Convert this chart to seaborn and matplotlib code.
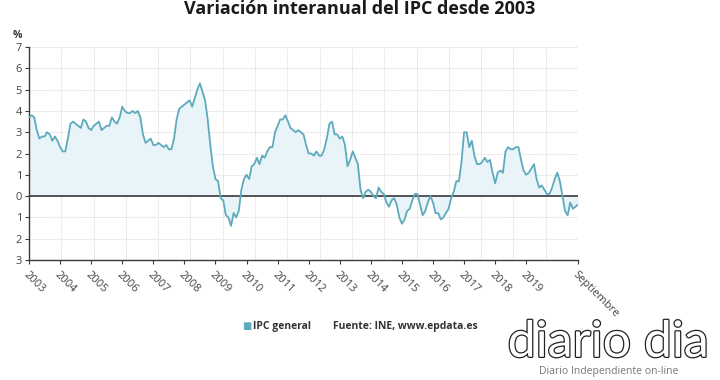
import numpy as np
import pandas as pd
import matplotlib
matplotlib.use("Agg")
import matplotlib.pyplot as plt
import matplotlib.patheffects as pe
import seaborn as sns

# IPC general, variación interanual (%), enero 2003 - septiembre 2020
ipc_2003 = [3.7, 3.8, 3.7, 3.1, 2.7, 2.8, 2.8, 3.0, 2.9, 2.6, 2.8, 2.6]
ipc_2004 = [2.3, 2.1, 2.1, 2.7, 3.4, 3.5, 3.4, 3.3, 3.2, 3.6, 3.5, 3.2]
ipc_2005 = [3.1, 3.3, 3.4, 3.5, 3.1, 3.2, 3.3, 3.3, 3.7, 3.5, 3.4, 3.7]
ipc_2006 = [4.2, 4.0, 3.9, 3.9, 4.0, 3.9, 4.0, 3.7, 2.9, 2.5, 2.6, 2.7]
ipc_2007 = [2.4, 2.4, 2.5, 2.4, 2.3, 2.4, 2.2, 2.2, 2.7, 3.6, 4.1, 4.2]
ipc_2008 = [4.3, 4.4, 4.5, 4.2, 4.6, 5.0, 5.3, 4.9, 4.5, 3.6, 2.4, 1.4]
ipc_2009 = [0.8, 0.7, -0.1, -0.2, -0.9, -1.0, -1.4, -0.8, -1.0, -0.7, 0.3, 0.8]
ipc_2010 = [1.0, 0.8, 1.4, 1.5, 1.8, 1.5, 1.9, 1.8, 2.1, 2.3, 2.3, 3.0]
ipc_2011 = [3.3, 3.6, 3.6, 3.8, 3.5, 3.2, 3.1, 3.0, 3.1, 3.0, 2.9, 2.4]
ipc_2012 = [2.0, 2.0, 1.9, 2.1, 1.9, 1.9, 2.2, 2.7, 3.4, 3.5, 2.9, 2.9]
ipc_2013 = [2.7, 2.8, 2.4, 1.4, 1.7, 2.1, 1.8, 1.5, 0.3, -0.1, 0.2, 0.3]
ipc_2014 = [0.2, 0.0, -0.1, 0.4, 0.2, 0.1, -0.3, -0.5, -0.2, -0.1, -0.4, -1.0]
ipc_2015 = [-1.3, -1.1, -0.7, -0.6, -0.2, 0.1, 0.1, -0.4, -0.9, -0.7, -0.3, 0.0]
ipc_2016 = [-0.3, -0.8, -0.8, -1.1, -1.0, -0.8, -0.6, -0.1, 0.2, 0.7, 0.7, 1.6]
ipc_2017 = [3.0, 3.0, 2.3, 2.6, 1.9, 1.5, 1.5, 1.6, 1.8, 1.6, 1.7, 1.1]
ipc_2018 = [0.6, 1.1, 1.2, 1.1, 2.1, 2.3, 2.2, 2.2, 2.3, 2.3, 1.7, 1.2]
ipc_2019 = [1.0, 1.1, 1.3, 1.5, 0.8, 0.4, 0.5, 0.3, 0.1, 0.1, 0.4, 0.8]
ipc_2020 = [1.1, 0.7, 0.0, -0.7, -0.9, -0.3, -0.6, -0.5, -0.4]

year_labels = [str(y) for y in range(2003, 2020)] + ["Septiembre"]
y_ticks = [-3, -2, -1, 0, 1, 2, 3, 4, 5, 6, 7]

values = (ipc_2003 + ipc_2004 + ipc_2005 + ipc_2006 + ipc_2007 + ipc_2008
          + ipc_2009 + ipc_2010 + ipc_2011 + ipc_2012 + ipc_2013 + ipc_2014
          + ipc_2015 + ipc_2016 + ipc_2017 + ipc_2018 + ipc_2019 + ipc_2020)
df = pd.DataFrame({"mes": np.arange(len(values)), "ipc": values})
last = df["mes"].iloc[-1]

LINE = "#5eaabd"
FILL = "#e9f4f8"
DARK = "#3a3a3a"
GRID = "#dadada"

sns.set_style("white")
plt.rcParams["font.family"] = ["Open Sans", "DejaVu Sans"]

fig = plt.figure(figsize=(7.2, 3.8), dpi=100)
ax = fig.add_axes([0.0403, 0.316, 0.7625, 0.560])

ax.fill_between(df["mes"], df["ipc"], 0, color=FILL, lw=0, zorder=1)
sns.lineplot(data=df, x="mes", y="ipc", color=LINE, lw=1.3, ax=ax, zorder=3)
ax.axhline(0, color=DARK, lw=1.2, zorder=2)

ax.set_xlim(0, last)
ax.set_ylim(-3, 7)

# dotted grid
for yv in y_ticks:
    ax.axhline(yv, color=GRID, lw=0.7, ls=(0, (1, 1)), zorder=0)
for xv in np.linspace(0, last, 18):
    ax.axvline(xv, color=GRID, lw=0.7, ls=(0, (1, 1)), zorder=0)

tick_pos = [12 * i for i in range(len(year_labels) - 1)] + [last]
ax.set_xticks(tick_pos)
ax.set_xticklabels(year_labels, rotation=-45, ha="left", va="top",
                   rotation_mode="anchor", fontsize=8, color="#444444")
ax.set_yticks(y_ticks)
ax.set_yticklabels([str(abs(v)) for v in y_ticks], fontsize=8, color="#444444")
ax.tick_params(axis="both", length=3, width=0.8, color=DARK, pad=2,
               bottom=True, left=True)
ax.tick_params(axis="x", pad=4)
ax.set_xlabel("")
ax.set_ylabel("")

for side in ["top", "right"]:
    ax.spines[side].set_visible(False)
for side in ["left", "bottom"]:
    ax.spines[side].set_color(DARK)
    ax.spines[side].set_linewidth(1.0)

ax.text(-0.012, 1.03, "%", transform=ax.transAxes, fontsize=7.5,
        fontweight="bold", color="#333333", ha="right", va="bottom")

fig.text(0.499, 0.999, "Variación interanual del IPC desde 2003", ha="center",
         va="top", fontsize=13, fontweight="bold", color="#1a1a1a")

# legend / source
fig.text(0.336, 0.142, "\u25A0", color=LINE, fontsize=7, ha="left", va="center",
         family=["DejaVu Sans"])
fig.text(0.351, 0.142, "IPC general", fontsize=7.5, fontweight="bold",
         color="#333333", ha="left", va="center")
fig.text(0.462, 0.142, "Fuente: INE, www.epdata.es", fontsize=7.5,
         fontweight="bold", color="#333333", ha="left", va="center")

# logo
fig.text(0.845, 0.098, "diario dia", fontsize=36, color="white", ha="center",
         va="center", family=["Lato", "DejaVu Sans"],
         path_effects=[pe.withStroke(linewidth=1.8, foreground="#222222")])
fig.text(0.845, 0.022, "Diario Independiente on-line", fontsize=7.5,
         color="#777777", ha="center", va="center")

fig.savefig("out.png", dpi=100)
